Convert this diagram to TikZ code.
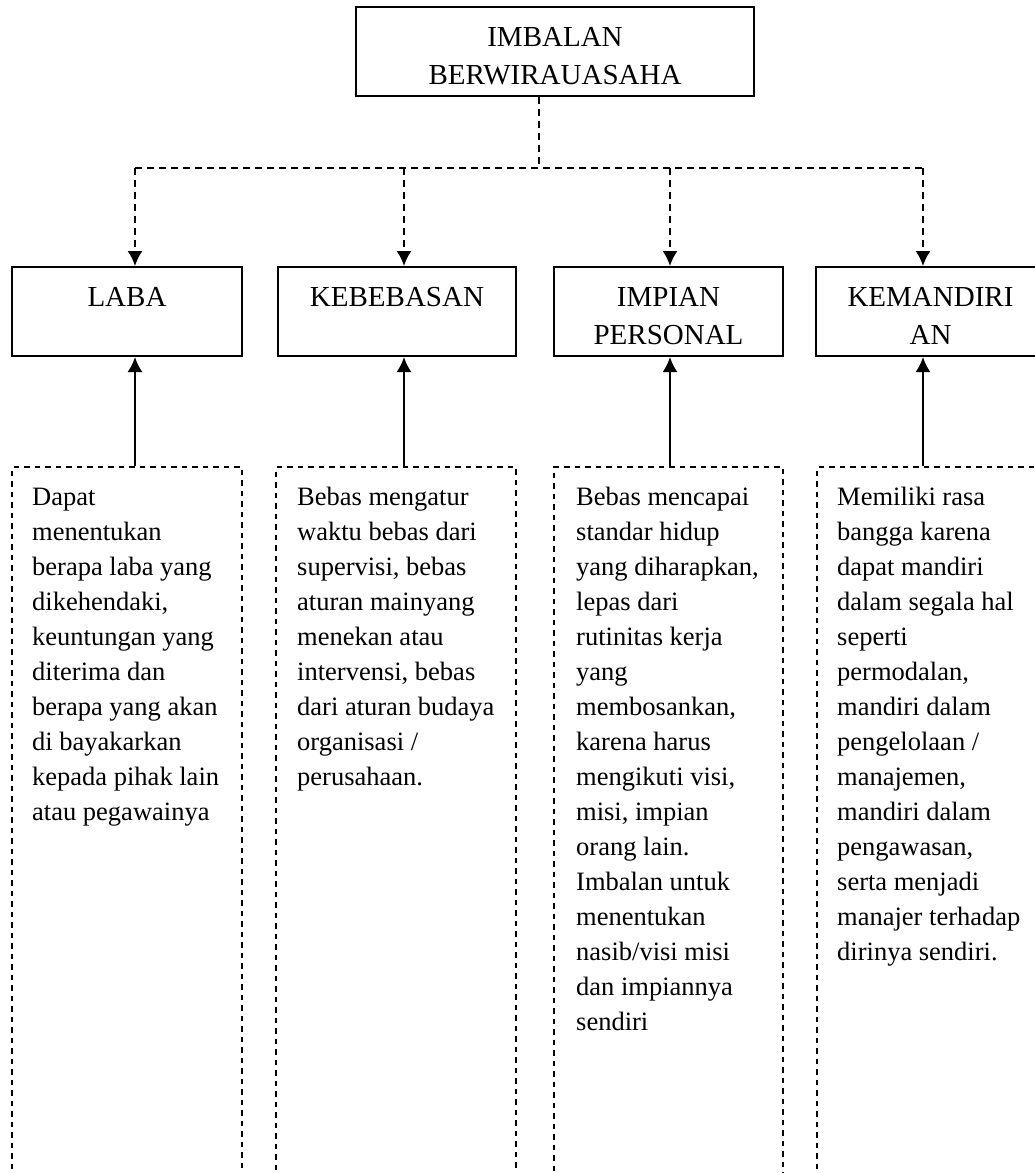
\documentclass[tikz,border=0pt]{standalone}
\usepackage{fontspec}
\setmainfont{Liberation Serif}
\usetikzlibrary{arrows.meta}
\begin{document}
\begin{tikzpicture}[x=1pt,y=-1pt,
  hbox/.style={draw, line width=2pt, rectangle, inner sep=0pt},
  htext/.style={font=\fontsize{29}{38}\selectfont, align=center, inner sep=0pt, anchor=north},
  dbox/.style={draw, line width=1.5pt, dash pattern=on 5.5pt off 5pt, rectangle, inner sep=0pt},
  btext/.style={font=\fontsize{26.5}{35}\selectfont, align=left, inner sep=0pt, anchor=north west},
  dconn/.style={line width=1.8pt, dash pattern=on 7pt off 5pt},
  darrow/.style={dconn, -{Latex[length=15pt,width=15pt]}},
  uarrow/.style={line width=2pt, -{Latex[length=15pt,width=15pt]}},
]
\useasboundingbox (0,0) rectangle (1035,1173);
\clip (0,0) rectangle (1035,1173);

% top box
\node[hbox, minimum width=398pt, minimum height=89pt] (top) at (555,51.5) {};
\node[htext] (toptxt) at (555,25) {\rule{0pt}{21pt}IMBALAN\\BERWIRAUASAHA};

% middle boxes
\node[hbox, minimum width=230pt, minimum height=89pt] (laba) at (127,311.5) {};
\node[hbox, minimum width=238pt, minimum height=89pt] (bebas) at (397,311.5) {};
\node[hbox, minimum width=229pt, minimum height=89pt] (impian) at (668.5,311.5) {};
\node[hbox, minimum width=229pt, minimum height=89pt] (mandiri) at (930.5,311.5) {};
\node[htext] (labatxt) at (127,285) {\rule{0pt}{21pt}LABA};
\node[htext] (bebastxt) at (397,285) {\rule{0pt}{21pt}KEBEBASAN};
\node[htext] (impiantxt) at (668.5,285) {\rule{0pt}{21pt}IMPIAN\\PERSONAL};
\node[htext] (mandiritxt) at (930.5,285) {\rule{0pt}{21pt}KEMANDIRI\\AN};

% dashed description boxes
\node[dbox, minimum width=230pt, minimum height=723pt] (d1) at (127,828.5) {};
\node[dbox, minimum width=240pt, minimum height=723pt] (d2) at (396,828.5) {};
\node[dbox, minimum width=229pt, minimum height=723pt] (d3) at (668.5,828.5) {};
\node[dbox, minimum width=230pt, minimum height=723pt] (d4) at (932,828.5) {};

\node[btext] (t1txt) at (32,485) {\rule{0pt}{20pt}Dapat\\menentukan\\berapa laba yang\\dikehendaki,\\keuntungan yang\\diterima dan\\berapa yang akan\\di bayakarkan\\kepada pihak lain\\atau pegawainya};
\node[btext] (t2txt) at (297,485) {\rule{0pt}{20pt}Bebas mengatur\\waktu bebas dari\\supervisi, bebas\\aturan mainyang\\menekan atau\\intervensi, bebas\\dari aturan budaya\\organisasi /\\perusahaan.};
\node[btext] (t3txt) at (576,485) {\rule{0pt}{20pt}Bebas mencapai\\standar hidup\\yang diharapkan,\\lepas dari\\rutinitas kerja\\yang\\membosankan,\\karena harus\\mengikuti visi,\\misi, impian\\orang lain.\\Imbalan untuk\\menentukan\\nasib/visi misi\\dan impiannya\\sendiri};
\node[btext] (t4txt) at (837,485) {\rule{0pt}{20pt}Memiliki rasa\\bangga karena\\dapat mandiri\\dalam segala hal\\seperti\\permodalan,\\mandiri dalam\\pengelolaan /\\manajemen,\\mandiri dalam\\pengawasan,\\serta menjadi\\manajer terhadap\\dirinya sendiri.};

% connectors
\coordinate (j) at (539,168);
\coordinate (c1) at (135,168);
\coordinate (c2) at (404,168);
\coordinate (c3) at (670,168);
\coordinate (c4) at (923,168);
\draw[dconn] (top.south -| j) -- (j);
\draw[dconn] (c1) -- (c4);
\draw[darrow] (c1) -- (c1 |- laba.north);
\draw[darrow] (c2) -- (c2 |- bebas.north);
\draw[darrow] (c3) -- (c3 |- impian.north);
\draw[darrow] (c4) -- (c4 |- mandiri.north);
\draw[uarrow] (c1 |- d1.north) -- (c1 |- laba.south);
\draw[uarrow] (c2 |- d2.north) -- (c2 |- bebas.south);
\draw[uarrow] (c3 |- d3.north) -- (c3 |- impian.south);
\draw[uarrow] (c4 |- d4.north) -- (c4 |- mandiri.south);
\end{tikzpicture}
\end{document}
